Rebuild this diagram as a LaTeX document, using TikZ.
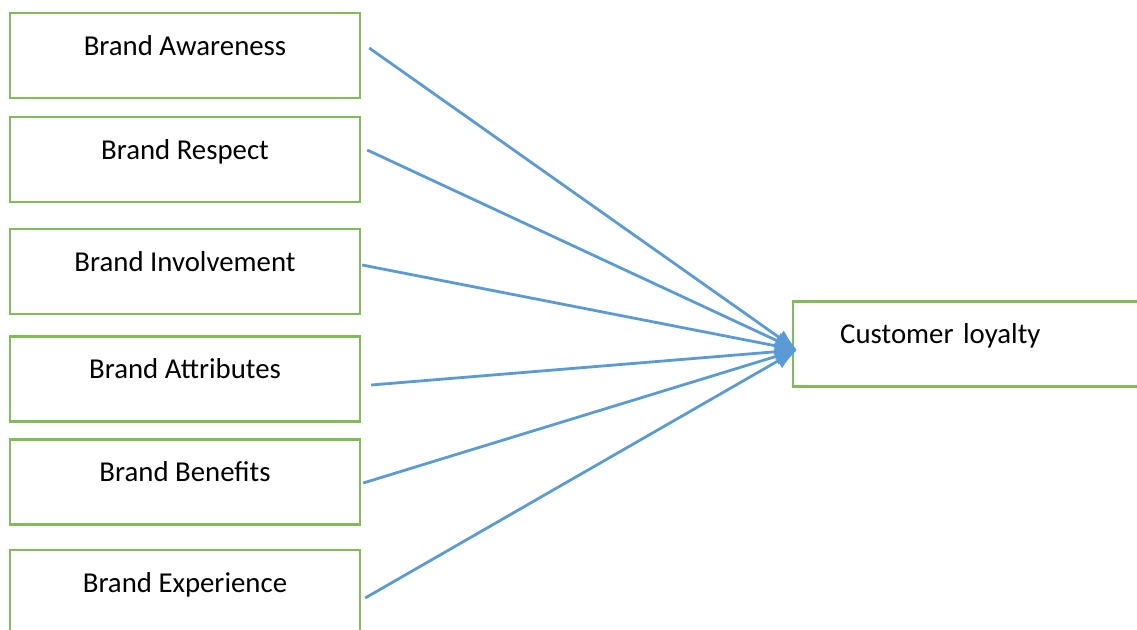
\documentclass[tikz,border=0pt]{standalone}
\usepackage{fontspec}
\setmainfont{Carlito}
\usetikzlibrary{arrows.meta}
\definecolor{boxgreen}{RGB}{128,189,88}
\definecolor{linkblue}{RGB}{91,155,213}

\begin{document}
\begin{tikzpicture}[
        x=0.5pt, y=-0.5pt, % ось y вниз
        factor/.style = {draw=boxgreen, line width=1.2pt, minimum width=175pt, minimum height=42.5pt,
                inner sep=0pt, text height=14pt, text depth=14pt, font=\fontsize{14.4}{17}\selectfont}, % Стиль факторов
        target/.style = {factor, minimum width=180pt, text width=133pt, inner xsep=23.5pt, align=left},
        link/.style = {draw=linkblue, line width=1.4pt, -{Latex[length=11pt, width=8.5pt]}},
    ]
    \useasboundingbox (0,0) rectangle (1137,630);

    \node[factor] (aw) at (185, 55.5) {Brand Awareness};
    \node[factor] (rs) at (185, 159.5) {Brand Respect};
    \node[factor] (iv) at (185, 271.5) {Brand Involvement};
    \node[factor] (at) at (185, 379) {Brand Attributes};
    \node[factor] (bn) at (185, 482) {Brand Benefits};
    \node[factor] (ex) at (185, 592.5) {Brand Experience};

    \node[target, anchor=west] (cl) at (792, 344) {Customer loyalty};

    \draw[link] ([shift={(8,-7.5)}]aw.east) -- ([shift={(5,6)}]cl.west);
    \draw[link] ([shift={(6,-9.5)}]rs.east) -- ([shift={(5,6)}]cl.west);
    \draw[link] ([shift={(1,-6.5)}]iv.east) -- ([shift={(5,6)}]cl.west);
    \draw[link] ([shift={(10,6)}]at.east) -- ([shift={(5,6)}]cl.west);
    \draw[link] ([shift={(2,1)}]bn.east) -- ([shift={(5,6)}]cl.west);
    \draw[link] ([shift={(4,5.5)}]ex.east) -- ([shift={(5,6)}]cl.west);

\end{tikzpicture}
\end{document}
